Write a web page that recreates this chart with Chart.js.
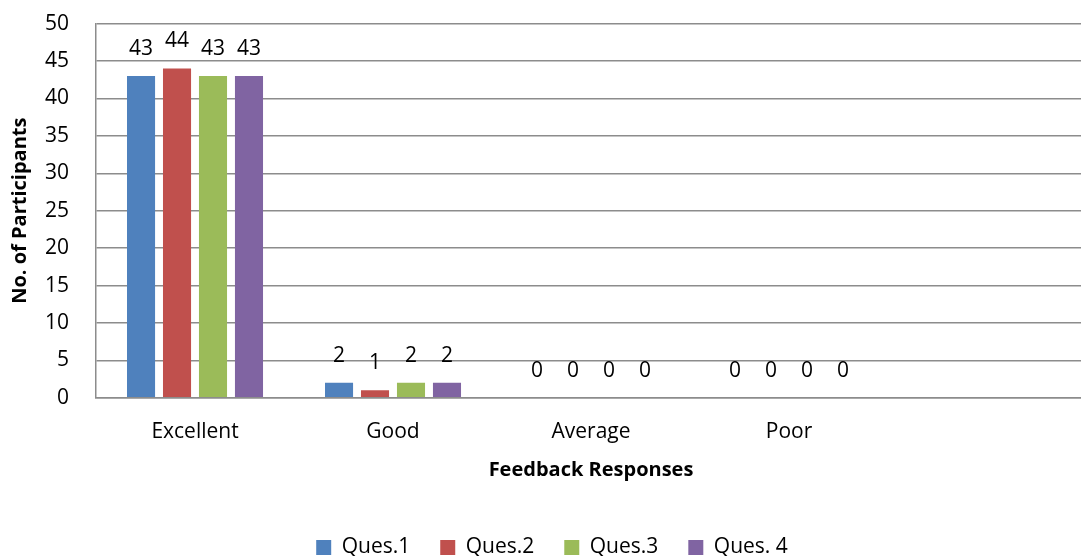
<!DOCTYPE html>
<html>
<head>
<meta charset="utf-8">
<script src="https://cdn.jsdelivr.net/npm/chart.js@4"></script>
<style>
  html, body { margin: 0; padding: 0; background: #fff; overflow: hidden; }
  #wrap { width: 1116px; height: 568px; }
</style>
</head>
<body>
<div id="wrap"><canvas id="myChart"></canvas></div>
<script>
// feedback chart data
const categories = ['Excellent', 'Good', 'Average', 'Poor', ''];
const seriesNames = ['Ques.1', 'Ques.2', 'Ques.3', 'Ques. 4'];
const ques1 = [43, 2, 0, 0, null];
const ques2 = [44, 1, 0, 0, null];
const ques3 = [43, 2, 0, 0, null];
const ques4 = [43, 2, 0, 0, null];
const yTicks = [0, 5, 10, 15, 20, 25, 30, 35, 40, 45, 50];

const colors = ['#4F81BD', '#C0504D', '#9BBB59', '#8064A2'];
const fontFamily = '"Open Sans", sans-serif';

// values written above each bar
const valueLabels = {
    id: 'valueLabels',
    afterLayout(chart) {
        // nudge the legend a bit to the right, like the original
        chart.legend.left += 9;
        chart.legend.right += 9;
    },
    afterDatasetsDraw(chart) {
        const ctx = chart.ctx;
        ctx.save();
        ctx.font = '21px ' + fontFamily;
        ctx.fillStyle = '#000';
        ctx.textAlign = 'center';
        ctx.textBaseline = 'middle';
        chart.data.datasets.forEach((ds, i) => {
            chart.getDatasetMeta(i).data.forEach((bar, j) => {
                if (ds.data[j] === null) return;
                ctx.fillText(ds.data[j], bar.x, bar.y - 27);
            });
        });
        ctx.restore();
    }
};

document.addEventListener("DOMContentLoaded", function() {
    const ctx = document.getElementById('myChart').getContext('2d');
    const allSeries = [ques1, ques2, ques3, ques4];
    const config = {
        type: 'bar',
        data: {
            labels: categories,
            datasets: allSeries.map((values, i) => ({
                label: seriesNames[i],
                data: values,
                backgroundColor: colors[i],
                borderWidth: 0,
                categoryPercentage: 0.727,
                barPercentage: 0.78
            }))
        },
        options: {
            responsive: true,
            maintainAspectRatio: false,
            animation: false,
            layout: { padding: { top: 0, right: 30, left: 0, bottom: 0 } },
            plugins: {
                tooltip: { enabled: false },
                legend: {
                    position: 'bottom',
                    labels: {
                        color: '#000',
                        font: { family: fontFamily, size: 21 },
                        boxWidth: 15,
                        boxHeight: 15,
                        padding: 30
                    }
                }
            },
            scales: {
                x: {
                    grid: { display: false, drawTicks: false },
                    border: { color: '#8c8c8c', width: 1.5 },
                    ticks: {
                        color: '#000',
                        font: { family: fontFamily, size: 21 },
                        padding: 22
                    },
                    title: {
                        display: true,
                        text: 'Feedback Responses',
                        color: '#000',
                        font: { family: fontFamily, size: 20, weight: 'bold' },
                        padding: { top: -9, bottom: 25 }
                    }
                },
                y: {
                    min: 0,
                    max: 50,
                    afterBuildTicks: axis => {
                        axis.ticks = yTicks.map(v => ({ value: v }));
                    },
                    grid: {
                        color: '#8c8c8c',
                        lineWidth: 1.5,
                        drawTicks: true,
                        tickLength: 16,
                        tickColor: 'rgba(0,0,0,0)'
                    },
                    border: { color: '#8c8c8c', width: 1.5 },
                    ticks: {
                        color: '#000',
                        font: { family: fontFamily, size: 21 },
                        padding: 11
                    },
                    title: {
                        display: true,
                        text: 'No. of Participants',
                        color: '#000',
                        font: { family: fontFamily, size: 20, weight: 'bold' },
                        padding: { top: 8, bottom: 2 }
                    }
                }
            }
        },
        plugins: [valueLabels]
    };

    var myChart = new Chart(ctx, config);
});
</script>
</body>
</html>
